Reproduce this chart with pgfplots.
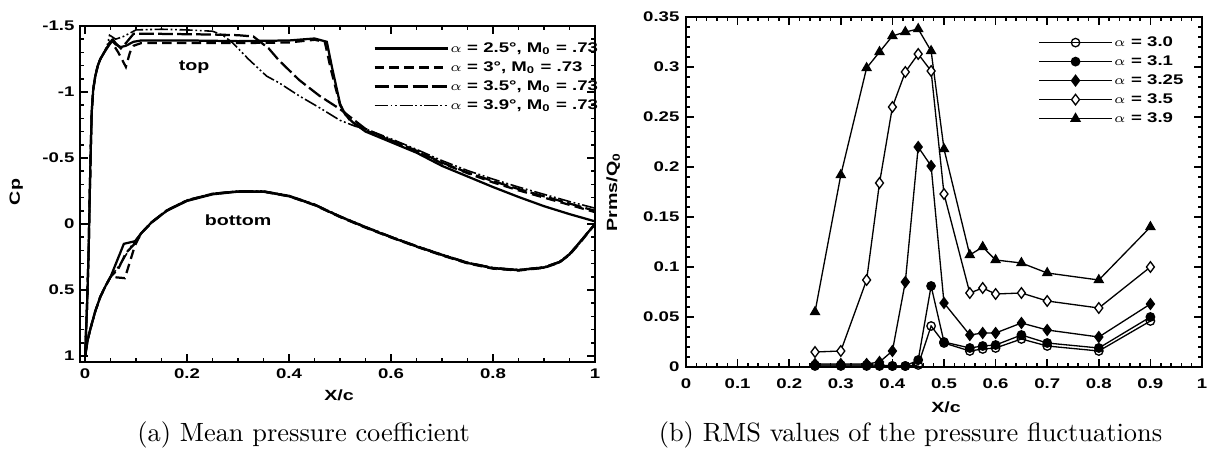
\documentclass[border=0pt]{standalone}
\usepackage{fontspec}
\usepackage{pgfplots}
\pgfplotsset{compat=1.18}
\newfontfamily\tf{Liberation Sans}[FakeStretch=1.33]
\newcommand\tk{\fontsize{5.3}{6.3}\selectfont\tf\bfseries}
\newcommand\lb{\fontsize{5.6}{6.6}\selectfont\tf\bfseries}
\begin{document}
\begin{tikzpicture}
\useasboundingbox (0,0) rectangle (457.97pt,173.87pt);
\pgfplotsset{
  mystyle/.style={scale only axis, anchor=south west,
    axis line style={line width=0.9pt},
    tick style={black, line width=0.6pt},
    major tick length=3pt, minor tick length=1.6pt, tick align=inside,
    ticklabel style={font=\tk},
    xticklabel style={inner sep=0pt, anchor=north},
    yticklabel style={inner sep=0pt, anchor=east},
    label style={font=\lb},
    legend cell align=left,
    legend image code/.code={\draw[mark repeat=2,mark phase=2,##1] plot coordinates {(0pt,0pt) (13.8pt,0pt) (27.6pt,0pt)};},
    legend style={draw=none, fill=none, inner sep=0pt, font=\tk, row sep=1.2pt,
      nodes={inner sep=0.5pt, text height=3.9pt, text depth=1.1pt},
      /tikz/every even column/.append style={column sep=3.3pt}},
  }
}
% ---------------- (a) mean pressure coefficient
\begin{axis}[mystyle, at={(30.30pt,36.74pt)}, width=195.1pt, height=127.3pt,
  xmin=-0.01, xmax=1, ymin=-1.5, ymax=1.045, y dir=reverse,
  xtick={0,0.2,0.4,0.6,0.8,1}, xticklabels={0,0.2,0.4,0.6,0.8,1}, minor x tick num=3,
  ytick={-1.5,-1,-0.5,0,0.5,1}, yticklabels={-1.5,-1,-0.5,0,0.5,1}, minor y tick num=4,
  xticklabel style={yshift=-2.3pt}, yticklabel style={xshift=-1.9pt},
  xlabel={X/c}, ylabel={Cp},
  xlabel style={at={(axis description cs:0.503,-0.098)}, anchor=center},
  ylabel style={at={(axis description cs:-0.124,0.506)}, anchor=center},
  legend style={at={(axis description cs:0.569,0.958)}, anchor=north west},
  every axis plot/.append style={black, line width=0.85pt},
]
% upper surfaces
\addplot[solid] coordinates {(0,1.0)(0.004,0.6)(0.007,0.2)(0.009,-0.2)(0.011,-0.55)(0.013,-0.85)(0.016,-1.02)(0.02,-1.12)(0.025,-1.2)(0.03,-1.25)(0.036,-1.29)(0.044,-1.34)
 (0.052,-1.39)(0.06,-1.36)(0.07,-1.34)(0.08,-1.35)(0.095,-1.38)(0.11,-1.39)(0.2,-1.39)(0.3,-1.385)(0.4,-1.39)(0.45,-1.405)(0.474,-1.38)(0.484,-1.19)(0.5,-0.91)(0.51,-0.83)(0.525,-0.77)(0.55,-0.70)(0.6,-0.62)(0.65,-0.54)(0.7,-0.44)(0.75,-0.36)(0.8,-0.28)(0.85,-0.205)(0.9,-0.135)(0.95,-0.075)(1.0,-0.02)};
\addlegendentry{$\alpha$ = 2.5°, M\textsubscript{0} = .73}
\addplot[dash pattern=on 3.6pt off 2pt] coordinates {(0,1.0)(0.004,0.6)(0.007,0.2)(0.009,-0.2)(0.011,-0.55)(0.013,-0.85)(0.016,-1.02)(0.02,-1.12)(0.025,-1.2)(0.03,-1.25)(0.036,-1.29)(0.044,-1.34)
 (0.052,-1.38)(0.065,-1.30)(0.08,-1.19)(0.088,-1.30)(0.095,-1.35)(0.11,-1.37)(0.2,-1.37)(0.3,-1.37)(0.4,-1.375)(0.45,-1.395)(0.47,-1.38)(0.482,-1.17)(0.5,-0.90)(0.52,-0.78)(0.55,-0.71)(0.6,-0.63)(0.65,-0.55)(0.7,-0.46)(0.75,-0.385)(0.8,-0.315)(0.85,-0.255)(0.9,-0.20)(0.95,-0.145)(1.0,-0.09)};
\addlegendentry{$\alpha$ = 3°, M\textsubscript{0} = .73}
\addplot[dash pattern=on 5.6pt off 1.6pt] coordinates {(0,1.0)(0.004,0.6)(0.007,0.2)(0.009,-0.2)(0.011,-0.55)(0.013,-0.85)(0.016,-1.02)(0.02,-1.12)(0.025,-1.2)(0.03,-1.25)(0.036,-1.29)(0.044,-1.34)
 (0.052,-1.41)(0.06,-1.37)(0.07,-1.33)(0.08,-1.37)(0.095,-1.44)(0.15,-1.44)(0.25,-1.435)(0.3,-1.43)(0.33,-1.42)(0.36,-1.33)(0.38,-1.24)(0.42,-1.09)(0.46,-0.97)(0.5,-0.87)(0.53,-0.78)(0.55,-0.72)(0.6,-0.635)(0.65,-0.555)(0.7,-0.465)(0.75,-0.39)(0.8,-0.325)(0.85,-0.265)(0.9,-0.21)(0.95,-0.155)(1.0,-0.10)};
\addlegendentry{$\alpha$ = 3.5°, M\textsubscript{0} = .73}
\addplot[line width=0.6pt, dash pattern=on 5pt off 1pt on 0.7pt off 1pt on 0.7pt off 1pt] coordinates {(0,1.0)(0.004,0.6)(0.007,0.2)(0.009,-0.2)(0.011,-0.55)(0.013,-0.85)(0.016,-1.02)(0.02,-1.12)(0.025,-1.2)(0.03,-1.25)(0.036,-1.29)(0.044,-1.36)
 (0.048,-1.43)(0.06,-1.40)(0.075,-1.42)(0.1,-1.47)(0.15,-1.475)(0.2,-1.47)(0.25,-1.46)(0.27,-1.43)(0.29,-1.37)(0.32,-1.25)(0.356,-1.12)(0.38,-1.07)(0.42,-0.97)(0.46,-0.88)(0.5,-0.785)(0.53,-0.74)(0.55,-0.72)(0.6,-0.645)(0.65,-0.565)(0.7,-0.48)(0.75,-0.405)(0.8,-0.34)(0.85,-0.28)(0.9,-0.225)(0.95,-0.17)(1.0,-0.12)};
\addlegendentry{$\alpha$ = 3.9°, M\textsubscript{0} = .73}
% lower surfaces
\addplot[solid, forget plot] coordinates {(0,1.0)(0.005,0.88)(0.01,0.80)(0.02,0.66)(0.03,0.55)(0.04,0.47)(0.05,0.40)(0.076,0.15)(0.098,0.13)
 (0.11,0.07)(0.13,-0.01)(0.16,-0.10)(0.2,-0.175)(0.25,-0.225)(0.3,-0.245)(0.35,-0.245)(0.4,-0.21)(0.45,-0.145)(0.5,-0.055)(0.55,0.025)(0.6,0.10)(0.65,0.17)(0.7,0.235)(0.75,0.295)(0.8,0.335)(0.85,0.35)(0.9,0.33)(0.93,0.29)(0.95,0.23)(0.97,0.14)(0.985,0.07)(1.0,0.0)};
\addplot[dash pattern=on 3.6pt off 2pt, forget plot] coordinates {(0,1.0)(0.005,0.88)(0.01,0.80)(0.02,0.66)(0.03,0.55)(0.04,0.47)(0.05,0.40)(0.078,0.41)(0.098,0.16)
 (0.11,0.07)(0.13,-0.01)(0.16,-0.10)(0.2,-0.18)(0.25,-0.228)(0.3,-0.247)(0.35,-0.245)(0.4,-0.21)(0.45,-0.143)(0.5,-0.053)(0.55,0.028)(0.6,0.102)(0.65,0.172)(0.7,0.238)(0.75,0.298)(0.8,0.338)(0.85,0.352)(0.9,0.332)(0.93,0.292)(0.95,0.233)(0.97,0.145)(0.985,0.072)(1.0,0.0)};
\addplot[dash pattern=on 5.6pt off 1.6pt, forget plot] coordinates {(0,1.0)(0.005,0.88)(0.01,0.80)(0.02,0.66)(0.03,0.55)(0.04,0.47)(0.05,0.40)(0.065,0.34)(0.08,0.22)(0.097,0.15)
 (0.11,0.07)(0.13,-0.012)(0.16,-0.103)(0.2,-0.178)(0.25,-0.228)(0.3,-0.248)(0.35,-0.247)(0.4,-0.213)(0.45,-0.147)(0.5,-0.057)(0.55,0.023)(0.6,0.098)(0.65,0.168)(0.7,0.233)(0.75,0.293)(0.8,0.333)(0.85,0.348)(0.9,0.328)(0.93,0.288)(0.95,0.228)(0.97,0.138)(0.985,0.068)(1.0,0.0)};
\addplot[line width=0.6pt, dash pattern=on 5pt off 1pt on 0.7pt off 1pt on 0.7pt off 1pt, forget plot] coordinates {(0,1.0)(0.005,0.88)(0.01,0.80)(0.02,0.66)(0.03,0.55)(0.04,0.47)(0.05,0.40)(0.07,0.30)(0.09,0.17)
 (0.11,0.07)(0.13,-0.015)(0.16,-0.105)(0.2,-0.182)(0.25,-0.232)(0.3,-0.25)(0.35,-0.25)(0.4,-0.216)(0.45,-0.15)(0.5,-0.06)(0.55,0.02)(0.6,0.095)(0.65,0.165)(0.7,0.23)(0.75,0.29)(0.8,0.33)(0.85,0.345)(0.9,0.325)(0.93,0.285)(0.95,0.225)(0.97,0.135)(0.985,0.065)(1.0,0.0)};
\node[font=\lb] at (axis cs:0.214,-1.19) {top};
\node[font=\lb] at (axis cs:0.30,-0.03) {bottom};
\end{axis}
% ---------------- (b) RMS values
\begin{axis}[mystyle, at={(259.86pt,34.85pt)}, width=195.46pt, height=132.58pt,
  xmin=0, xmax=1, ymin=0, ymax=0.35,
  xtick={0,0.1,0.2,0.3,0.4,0.5,0.6,0.7,0.8,0.9,1}, xticklabels={0,0.1,0.2,0.3,0.4,0.5,0.6,0.7,0.8,0.9,1}, minor x tick num=4,
  ytick={0,0.05,0.1,0.15,0.2,0.25,0.3,0.35}, yticklabels={0,0.05,0.1,0.15,0.2,0.25,0.3,0.35}, minor y tick num=4,
  xticklabel style={yshift=-4.4pt}, yticklabel style={xshift=-2.3pt},
  xlabel={X/c}, ylabel={Prms/Q\textsubscript{0}},
  xlabel style={at={(axis description cs:0.504,-0.114)}, anchor=center},
  ylabel style={at={(axis description cs:-0.141,0.5)}, anchor=center},
  legend style={at={(axis description cs:0.682,0.951)}, anchor=north west},
  every axis plot/.append style={black, line width=0.5pt, mark options={solid, line width=0.5pt}},
]
\addplot[mark=o, mark size=1.6pt, mark options={fill=white}] coordinates {(0.25,0.001)(0.3,0.001)(0.35,0.001)(0.375,0.001)(0.4,0.001)(0.425,0.001)(0.45,0.002)(0.475,0.041)(0.5,0.024)(0.55,0.016)(0.575,0.018)(0.6,0.019)(0.65,0.028)(0.7,0.021)(0.8,0.016)(0.9,0.046)};
\addlegendentry{$\alpha$ = 3.0}
\addplot[mark=*, mark size=1.6pt, mark options={fill=black}] coordinates {(0.25,0.002)(0.3,0.002)(0.35,0.002)(0.375,0.002)(0.4,0.001)(0.425,0.001)(0.45,0.007)(0.475,0.081)(0.5,0.025)(0.55,0.019)(0.575,0.021)(0.6,0.022)(0.65,0.032)(0.7,0.024)(0.8,0.019)(0.9,0.050)};
\addlegendentry{$\alpha$ = 3.1}
\addplot[mark=diamond*, mark size=2.0pt, mark options={fill=black}] coordinates {(0.25,0.003)(0.3,0.003)(0.35,0.003)(0.375,0.005)(0.4,0.016)(0.425,0.085)(0.45,0.220)(0.475,0.201)(0.5,0.064)(0.55,0.032)(0.575,0.034)(0.6,0.034)(0.65,0.044)(0.7,0.037)(0.8,0.030)(0.9,0.063)};
\addlegendentry{$\alpha$ = 3.25}
\addplot[mark=diamond*, mark size=2.0pt, mark options={fill=white}] coordinates {(0.25,0.015)(0.3,0.016)(0.35,0.087)(0.375,0.184)(0.4,0.260)(0.425,0.295)(0.45,0.313)(0.475,0.296)(0.5,0.173)(0.55,0.074)(0.575,0.079)(0.6,0.073)(0.65,0.074)(0.7,0.066)(0.8,0.059)(0.9,0.100)};
\addlegendentry{$\alpha$ = 3.5}
\addplot[mark=triangle*, mark size=1.9pt, mark options={fill=black}] coordinates {(0.25,0.055)(0.3,0.192)(0.35,0.299)(0.375,0.315)(0.4,0.331)(0.425,0.335)(0.45,0.338)(0.475,0.316)(0.5,0.218)(0.55,0.112)(0.575,0.120)(0.6,0.107)(0.65,0.104)(0.7,0.094)(0.8,0.087)(0.9,0.140)};
\addlegendentry{$\alpha$ = 3.9}
\end{axis}
\node[anchor=base] at (115.0pt,6.6pt) {(a) Mean pressure coefficient};
\node[anchor=base] at (344.9pt,6.6pt) {(b) RMS values of the pressure fluctuations};
\end{tikzpicture}
\end{document}
